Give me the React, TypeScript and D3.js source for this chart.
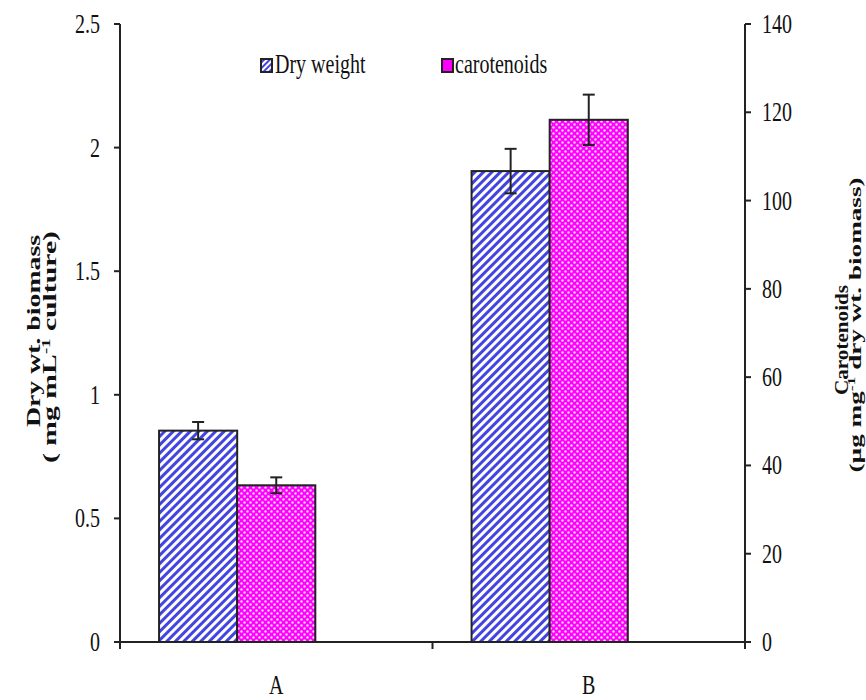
import React from "react";
import * as d3 from "d3";

const categories = ["A", "B"];
const seriesNames = ["Dry weight", "carotenoids"];
const dryWeight = [0.855, 1.905];
const dryWeightErr = [0.035, 0.09];
const carotenoids = [35.5, 118.3];
const carotenoidsErr = [1.8, 5.7];
const leftTicks = [0, 0.5, 1, 1.5, 2, 2.5];
const rightTicks = [0, 20, 40, 60, 80, 100, 120, 140];

const W = 866, H = 700;
const m = { left: 120, right: 121, top: 24, bottom: 58 };
const FONT = "'Liberation Serif', 'Times New Roman', serif";
const SY = 1.4;

function T({ x, y, anchor = "start", size = 20, children }: any) {
  return (
    <text transform={`translate(${x},${y}) scale(1,${SY})`} textAnchor={anchor} fontSize={size}>
      {children}
    </text>
  );
}

export default function App() {
  const x0 = m.left, x1 = W - m.right;
  const y0 = H - m.bottom, y1 = m.top;
  const x = d3.scaleBand<string>().domain(categories).range([x0, x1]).paddingInner(0.25).paddingOuter(0.125);
  const slots = d3.scaleBand<number>().domain([0, 1, 2]).range([0, x.bandwidth()]);
  const yL = d3.scaleLinear().domain([0, 2.5]).range([y0, y1]);
  const yR = d3.scaleLinear().domain([0, 140]).range([y0, y1]);
  const catScale = d3.scaleBand<string>().domain(categories).range([x0, x1]);
  const bw = slots.bandwidth();

  const bars = categories.flatMap((c, i) => [
    { key: c + "d", x: x(c)! + slots(0)!, v: dryWeight[i], e: dryWeightErr[i], s: yL, fill: "url(#diag)" },
    { key: c + "c", x: x(c)! + slots(1)!, v: carotenoids[i], e: carotenoidsErr[i], s: yR, fill: "url(#dots)" },
  ]);

  return (
    <svg width={W} height={H} style={{ display: "block", position: "absolute", left: 0, top: 0 }}>
      <defs>
        <pattern id="diag" patternUnits="userSpaceOnUse" width="6" height="6" patternTransform="rotate(45)">
          <rect width="6" height="6" fill="#ffffff" />
          <rect width="3" height="6" fill="#4444e0" />
        </pattern>
        <pattern id="dots" patternUnits="userSpaceOnUse" width="6" height="6">
          <rect width="6" height="6" fill="#ff00ff" />
          <circle cx="1.5" cy="1.5" r="1.2" fill="#ffd6ff" />
          <circle cx="4.5" cy="4.5" r="1.2" fill="#ffd6ff" />
        </pattern>
        <pattern id="diagS" patternUnits="userSpaceOnUse" width="4" height="4" patternTransform="rotate(45)">
          <rect width="4" height="4" fill="#ffffff" />
          <rect width="2" height="4" fill="#4444e0" />
        </pattern>
      </defs>
      <rect width={W} height={H} fill="#fff" />
      {bars.map((b) => (
        <g key={b.key}>
          <rect x={b.x} y={b.s(b.v)} width={bw} height={y0 - b.s(b.v)} fill={b.fill} stroke="#222" strokeWidth={2} />
          <line x1={b.x + bw / 2} x2={b.x + bw / 2} y1={b.s(b.v + b.e)} y2={b.s(b.v - b.e)} stroke="#222" strokeWidth={2} />
          <line x1={b.x + bw / 2 - 6} x2={b.x + bw / 2 + 6} y1={b.s(b.v + b.e)} y2={b.s(b.v + b.e)} stroke="#222" strokeWidth={2} />
          <line x1={b.x + bw / 2 - 6} x2={b.x + bw / 2 + 6} y1={b.s(b.v - b.e)} y2={b.s(b.v - b.e)} stroke="#222" strokeWidth={2} />
        </g>
      ))}
      <g stroke="#222" strokeWidth={2}>
        <line x1={x0} x2={x0} y1={y1} y2={y0} />
        <line x1={x1} x2={x1} y1={y1} y2={y0} />
        <line x1={x0 - 4} x2={x1 + 4} y1={y0} y2={y0} />
        {leftTicks.map((t) => <line key={"lt" + t} x1={x0 - 6} x2={x0} y1={yL(t)} y2={yL(t)} />)}
        {rightTicks.map((t) => <line key={"rt" + t} x1={x1} x2={x1 + 6} y1={yR(t)} y2={yR(t)} />)}
        {[x0, ...categories.map((c) => catScale(c)! + catScale.bandwidth())].map((v, i) => (
          <line key={"xt" + i} x1={v} x2={v} y1={y0} y2={y0 + 7} />
        ))}
      </g>
      <g fontFamily={FONT} fill="#111">
        {leftTicks.map((t) => (
          <T key={"ll" + t} x={x0 - 20} y={yL(t) + 9} anchor="end">{String(t)}</T>
        ))}
        {rightTicks.map((t) => (
          <T key={"rl" + t} x={x1 + 17} y={yR(t) + 9}>{String(t)}</T>
        ))}
        {categories.map((c) => (
          <T key={"cl" + c} x={catScale(c)! + catScale.bandwidth() / 2} y={y0 + 52} anchor="middle">{c}</T>
        ))}
      </g>
      <g fontFamily={FONT} fill="#111">
        <rect x={261} y={59} width={11} height={13} fill="url(#diagS)" stroke="#222" strokeWidth={2} />
        <T x={275} y={73}>{seriesNames[0]}</T>
        <rect x={442} y={59} width={11} height={13} fill="#ff00ff" stroke="#222" strokeWidth={2} />
        <T x={455} y={73}>{seriesNames[1]}</T>
      </g>
      <g fontFamily={FONT} fontWeight="bold" fill="#111" textAnchor="middle">
        <text fontSize={19} transform="translate(40,331) rotate(-90)" textLength={192} lengthAdjust="spacingAndGlyphs">Dry wt. biomass</text>
        <text fontSize={19} transform="translate(56,347) rotate(-90)" textLength={232} lengthAdjust="spacingAndGlyphs">
          ( mg mL<tspan dy="-6" fontSize={12}>-1</tspan><tspan dy="6"> culture)</tspan>
        </text>
        <text fontSize={18} transform="translate(848,340) rotate(-90)" textLength={110} lengthAdjust="spacingAndGlyphs">Carotenoids</text>
        <text fontSize={17} transform="translate(861,325) rotate(-90)" textLength={295} lengthAdjust="spacingAndGlyphs">
          (µg mg<tspan dy="-6" fontSize={11}>-1</tspan><tspan dy="6"> dry wt. biomass)</tspan>
        </text>
      </g>
    </svg>
  );
}
